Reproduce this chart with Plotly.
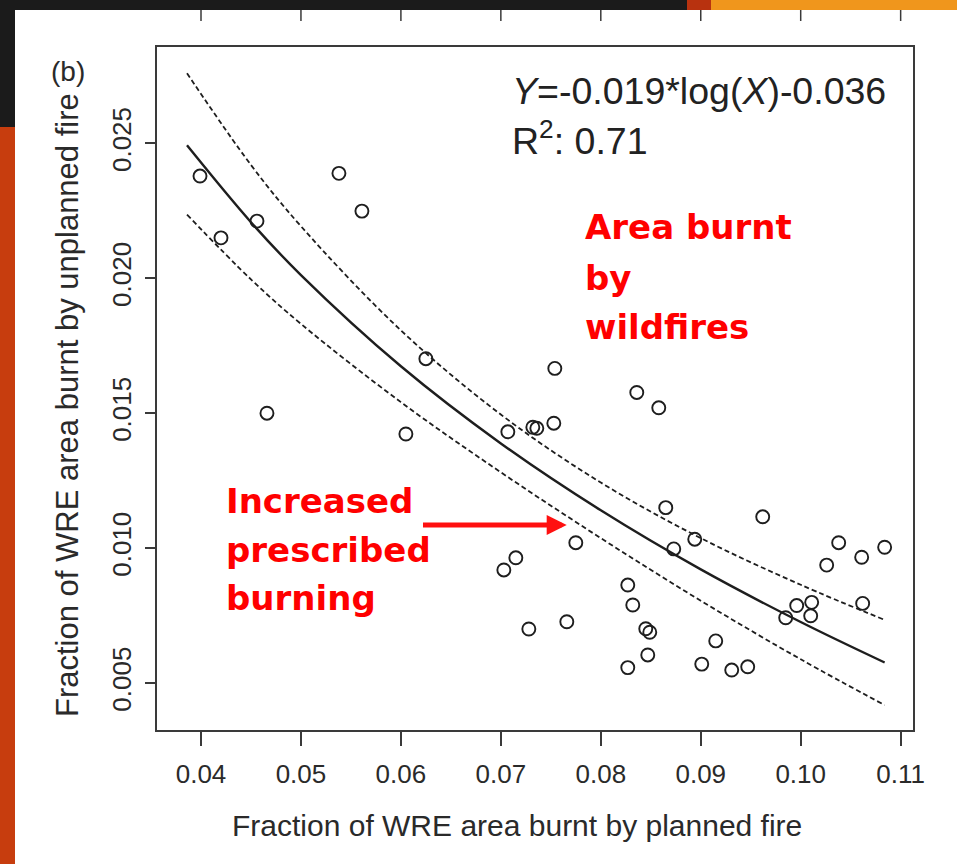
import plotly.graph_objects as go

# ---------------- data ----------------
x_planned = [0.0399, 0.0538, 0.0561, 0.0456, 0.0420, 0.0625, 0.0466, 0.0605,
             0.0754, 0.0836, 0.0858, 0.0707, 0.0732, 0.0736, 0.0753, 0.0865,
             0.0962, 0.0894, 0.0873, 0.0775, 0.0715, 0.0703, 0.1038, 0.1084,
             0.1061, 0.1026, 0.0827, 0.0832, 0.0996, 0.1011, 0.1010, 0.0985,
             0.1062, 0.0728, 0.0766, 0.0845, 0.0849, 0.0915, 0.0847, 0.0901,
             0.0931, 0.0947, 0.0827]
y_unplanned = [0.02379, 0.02389, 0.02249, 0.02212, 0.02150, 0.01702, 0.01500, 0.01423,
               0.01666, 0.01577, 0.01520, 0.01431, 0.01448, 0.01444, 0.01463, 0.01150,
               0.01116, 0.01033, 0.00997, 0.01020, 0.00964, 0.00919, 0.01020, 0.01003,
               0.00966, 0.00937, 0.00863, 0.00789, 0.00787, 0.00799, 0.00749, 0.00742,
               0.00795, 0.00700, 0.00727, 0.00701, 0.00688, 0.00656, 0.00604, 0.00570,
               0.00548, 0.00560, 0.00557]

fit_x = [0.0386, 0.045, 0.05, 0.06, 0.07, 0.08, 0.09, 0.10, 0.1084]
fit_y = [0.02493, 0.02208, 0.02012, 0.01674, 0.01388, 0.01140, 0.00921, 0.00726, 0.00576]
upper_y = [0.02760, 0.02420, 0.02193, 0.01807, 0.01495, 0.01243, 0.01037, 0.00864, 0.00734]
lower_y = [0.02236, 0.01996, 0.01831, 0.01541, 0.01281, 0.01037, 0.00805, 0.00588, 0.00418]

x_ticks = [0.04, 0.05, 0.06, 0.07, 0.08, 0.09, 0.10, 0.11]
x_tick_labels = ["0.04", "0.05", "0.06", "0.07", "0.08", "0.09", "0.10", "0.11"]
y_ticks = [0.005, 0.010, 0.015, 0.020, 0.025]
y_tick_labels = ["0.005", "0.010", "0.015", "0.020", "0.025"]

x_title = "Fraction of WRE area burnt by planned fire"
y_title = "Fraction of WRE area burnt by unplanned fire"
equation = "<i>Y</i>=-0.019*log(<i>X</i>)-0.036"
r2_text = "R<sup>2</sup>: 0.71"
panel_label = "(b)"
wild_lines = ["Area burnt", "by", "wildfires"]
rx_lines = ["Increased", "prescribed", "burning"]

# arrow (annotation position, not data)
arrow_tip = (0.07659, 0.01086)
arrow_tail = (0.06201, 0.01086)

# ---------------- layout geometry ----------------
W, H = 957, 864
L, R, T, B = 157, 44, 47, 134
PW, PH = W - L - R, H - T - B


def px(xp):
    return (xp - L) / PW


def py(yp):
    return (H - B - yp) / PH


INK = "#1e1e1e"
AX = "#3a3a3a"

fig = go.Figure()

fig.add_trace(go.Scatter(x=fit_x, y=upper_y, mode="lines", line_shape="spline",
                         line=dict(color=INK, width=1.8, dash="5px,3px"),
                         hoverinfo="skip", showlegend=False))
fig.add_trace(go.Scatter(x=fit_x, y=lower_y, mode="lines", line_shape="spline",
                         line=dict(color=INK, width=1.8, dash="5px,3px"),
                         hoverinfo="skip", showlegend=False))
fig.add_trace(go.Scatter(x=fit_x, y=fit_y, mode="lines", line_shape="spline",
                         line=dict(color=INK, width=2.4),
                         hoverinfo="skip", showlegend=False))
fig.add_trace(go.Scatter(x=x_planned, y=y_unplanned, mode="markers",
                         marker=dict(symbol="circle-open", size=13,
                                     line=dict(width=1.9, color=INK), color=INK),
                         showlegend=False))

axis_font = dict(family="Liberation Sans, Arial, sans-serif", size=26, color="#2a2a2a")

fig.update_xaxes(range=[0.035598, 0.111236], tickvals=x_ticks, ticktext=x_tick_labels,
                 ticks="outside", ticklen=14, tickwidth=1.6, tickcolor=AX,
                 showline=True, mirror=True, linecolor=AX, linewidth=1.8,
                 showgrid=False, zeroline=False, tickfont=axis_font,
                 ticklabelstandoff=6)
fig.update_yaxes(range=[0.003258, 0.028573], tickvals=y_ticks, ticktext=y_tick_labels,
                 ticks="outside", ticklen=10, tickwidth=1.6, tickcolor=AX,
                 showline=True, mirror=True, linecolor=AX, linewidth=1.8,
                 showgrid=False, zeroline=False, tickfont=axis_font, tickangle=-90,
                 ticklabelstandoff=4)

anns = []
# axis titles
anns.append(dict(text=x_title, x=px(517), y=py(825), xref="paper", yref="paper",
                 xanchor="center", yanchor="middle", showarrow=False,
                 font=dict(family="Liberation Sans, Arial, sans-serif", size=30, color="#2a2a2a")))
anns.append(dict(text=y_title, x=px(67), y=py(405), xref="paper", yref="paper",
                 xanchor="center", yanchor="middle", showarrow=False, textangle=-90,
                 font=dict(family="Liberation Sans, Arial, sans-serif", size=31, color="#2a2a2a")))
anns.append(dict(text=panel_label, x=px(68), y=py(71), xref="paper", yref="paper",
                 xanchor="center", yanchor="middle", showarrow=False,
                 font=dict(family="Liberation Sans, Arial, sans-serif", size=28, color="#2a2a2a")))
anns.append(dict(text=equation, x=px(510), y=py(91), xref="paper", yref="paper",
                 xanchor="left", yanchor="middle", showarrow=False,
                 font=dict(family="Liberation Sans, Arial, sans-serif", size=37.5, color="#222")))
anns.append(dict(text=r2_text, x=px(510), y=py(138), xref="paper", yref="paper",
                 xanchor="left", yanchor="middle", showarrow=False,
                 font=dict(family="Liberation Sans, Arial, sans-serif", size=37.5, color="#222")))

red_font = dict(family="DejaVu Sans, Verdana, sans-serif", size=34, color="#ff0000")
for txt, yy in zip(wild_lines, [227, 278, 327]):
    anns.append(dict(text="<b>%s</b>" % txt, x=px(583), y=py(yy), xref="paper", yref="paper",
                     xanchor="left", yanchor="middle", showarrow=False, font=red_font))
for txt, yy in zip(rx_lines, [501, 550, 598]):
    anns.append(dict(text="<b>%s</b>" % txt, x=px(224), y=py(yy), xref="paper", yref="paper",
                     xanchor="left", yanchor="middle", showarrow=False, font=red_font))

# red arrow
anns.append(dict(text=" ", x=arrow_tip[0], y=arrow_tip[1], ax=arrow_tail[0], ay=arrow_tail[1],
                 xref="x", yref="y", axref="x", ayref="y", showarrow=True,
                 arrowhead=2, arrowsize=0.8, arrowwidth=5, arrowcolor="#ff1010",
                 font=dict(size=4)))

shapes = []
# slide frame around the figure
shapes.append(dict(type="rect", xref="paper", yref="paper", x0=px(0), x1=px(957),
                   y0=py(10), y1=py(0), fillcolor="#1b1b1b", line_width=0, layer="above"))
shapes.append(dict(type="rect", xref="paper", yref="paper", x0=px(687), x1=px(711),
                   y0=py(10), y1=py(0), fillcolor="#b8320f", line_width=0, layer="above"))
shapes.append(dict(type="rect", xref="paper", yref="paper", x0=px(711), x1=px(957),
                   y0=py(10), y1=py(0), fillcolor="#f0961c", line_width=0, layer="above"))
shapes.append(dict(type="rect", xref="paper", yref="paper", x0=px(0), x1=px(15),
                   y0=py(127), y1=py(0), fillcolor="#1b1b1b", line_width=0, layer="above"))
shapes.append(dict(type="rect", xref="paper", yref="paper", x0=px(0), x1=px(15),
                   y0=py(864), y1=py(127), fillcolor="#c73d0e", line_width=0, layer="above"))
# ticks of the panel above (cropped)
for tv in x_ticks:
    shapes.append(dict(type="line", xref="x", yref="paper", x0=tv, x1=tv,
                       y0=py(21), y1=py(10), line=dict(color=AX, width=1.5), layer="above"))

fig.update_layout(width=W, height=H, margin=dict(l=L, r=R, t=T, b=B),
                  paper_bgcolor="white", plot_bgcolor="white",
                  annotations=anns, shapes=shapes, showlegend=False)

fig.write_html("out.html")
